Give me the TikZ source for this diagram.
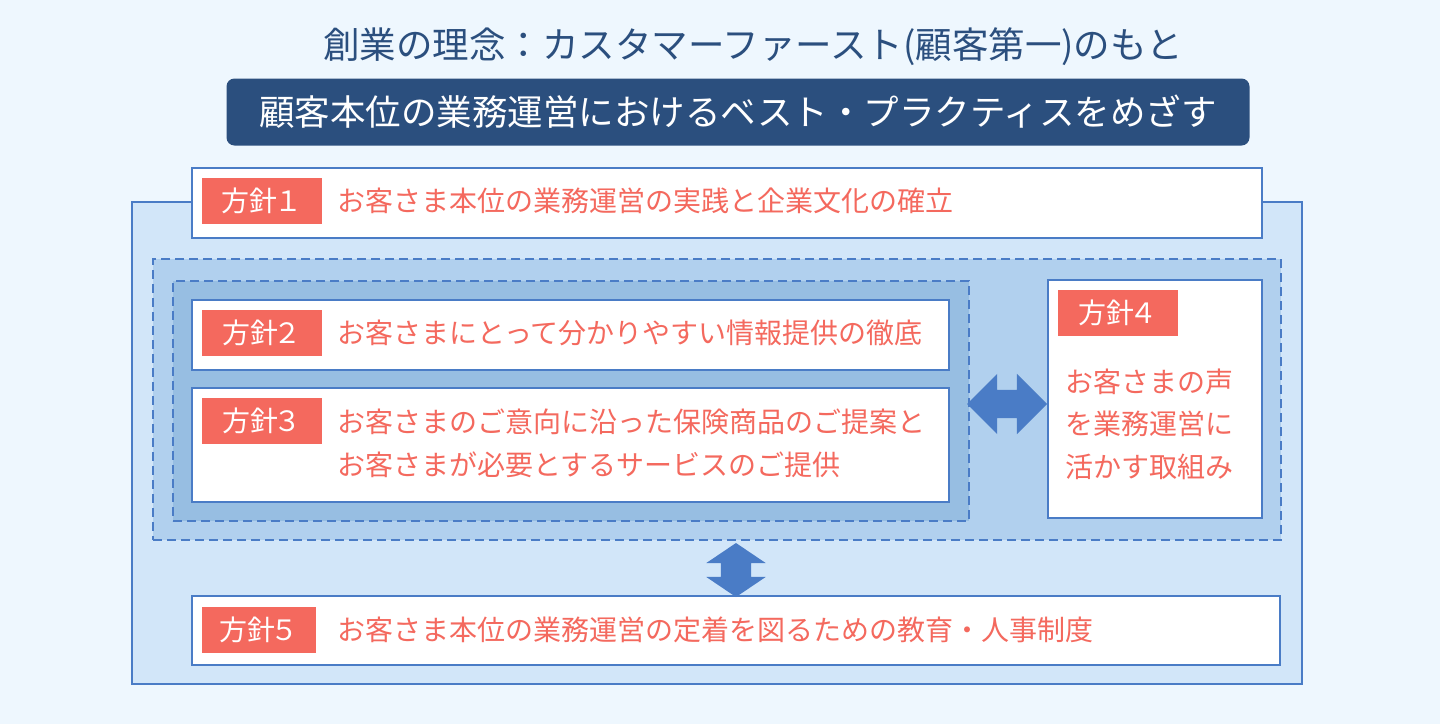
\documentclass[tikz,border=0pt]{standalone}
\usepackage{fontspec}
\setmainfont{Noto Sans CJK JP}
\usetikzlibrary{shapes.arrows}
\definecolor{bgblue}{HTML}{EEF7FE}
\definecolor{outerblue}{HTML}{D2E6F9}
\definecolor{midblue}{HTML}{B1D0EE}
\definecolor{innerblue}{HTML}{97BEE2}
\definecolor{lineblue}{HTML}{4A7CC6}
\definecolor{navy}{HTML}{2B4F7E}
\definecolor{salmon}{HTML}{F4695E}
\tikzstyle{box}=[rectangle,draw=lineblue,line width=2.2pt,anchor=north west,inner sep=0pt]
\tikzstyle{policy}=[box,fill=white]
\tikzstyle{group}=[box,dash pattern=on 9pt off 5pt]
\tikzstyle{tag}=[rectangle,fill=salmon,text=white,anchor=north west,minimum height=46pt,inner sep=0pt,font=\fontsize{28}{32}\selectfont]
\tikzstyle{txt}=[text=salmon,anchor=west,inner sep=0pt,align=left,font=\fontsize{28}{43}\selectfont]
\tikzstyle{fatarrow}=[double arrow,fill=lineblue,inner xsep=0pt]

\begin{document}
\begin{tikzpicture}[x=1pt,y=-1pt]
    \fill[bgblue] (0,0) rectangle (1440,724);
    \useasboundingbox (0,0) rectangle (1440,724);
    \node[text=navy,font=\fontsize{36.5}{40}\selectfont] (motto) at (753,47)
    {創業の理念：カスタマーファースト(顧客第一)のもと};
    \node[fill=navy,rounded corners=8pt,minimum width=1023pt,minimum height=67pt,
    text=white,font=\fontsize{35.5}{40}\selectfont] (goal) at (738,112)
    {顧客本位の業務運営におけるベスト・プラクティスをめざす};
    \node[box,fill=outerblue,minimum width=1170pt,minimum height=482pt] (frame) at (131,201) {};
    \node[group,fill=midblue,minimum width=1128pt,minimum height=281pt] (grp) at (152,258) {};
    \node[group,fill=innerblue,minimum width=796pt,minimum height=240pt] (grpin) at (172,280) {};
    \node[policy,minimum width=1070pt,minimum height=70pt] (p1) at (191,167) {};
    \node[policy,minimum width=757pt,minimum height=70pt] (p2) at (191,299) {};
    \node[policy,minimum width=757pt,minimum height=114pt] (p3) at (191,387) {};
    \node[policy,minimum width=214pt,minimum height=238pt] (p4) at (1047,279) {};
    \node[policy,minimum width=1088pt,minimum height=69pt] (p5) at (191,595) {};
    \node[tag,minimum width=120pt] (t1) at (202,178) {方針\kern-3pt１};
    \node[tag,minimum width=120pt] (t2) at (202,310) {方針\kern-5pt２};
    \node[tag,minimum width=120pt] (t3) at (202,398) {方針\kern-5pt３};
    \node[tag,minimum width=120pt] (t4) at (1058,290) {方針\kern-5pt４};
    \node[tag,minimum width=114pt] (t5) at (202,607) {方針\kern-5pt５};
    \node[txt] (d1) at (337,201) {お客さま本位の業務運営の実践と企業文化の確立};
    \node[txt] (d2) at (337,333) {お客さまにとって分かりやすい情報提供の徹底};
    \node[txt] (d3) at (337,443) {お客さまのご意向に沿った保険商品のご提案と\\お客さまが必要とするサービスのご提供};
    \node[txt,font=\fontsize{28}{42.5}\selectfont] (d4) at (1065,424) {お客さまの声\\を業務運営に\\活かす取組み};
    \node[txt] (d5) at (337,630) {お客さま本位の業務運営の定着を図るための教育・人事制度};
    \node[fatarrow,minimum height=80pt,inner ysep=14pt,double arrow head extend=16pt,
    double arrow tip angle=90] (harr) at (1007,404) {};
    \node[fatarrow,rotate=90,minimum height=54pt,inner ysep=15pt,double arrow head extend=14.5pt,
    double arrow tip angle=112] (varr) at (736,570) {};
  \end{tikzpicture}
\end{document}
